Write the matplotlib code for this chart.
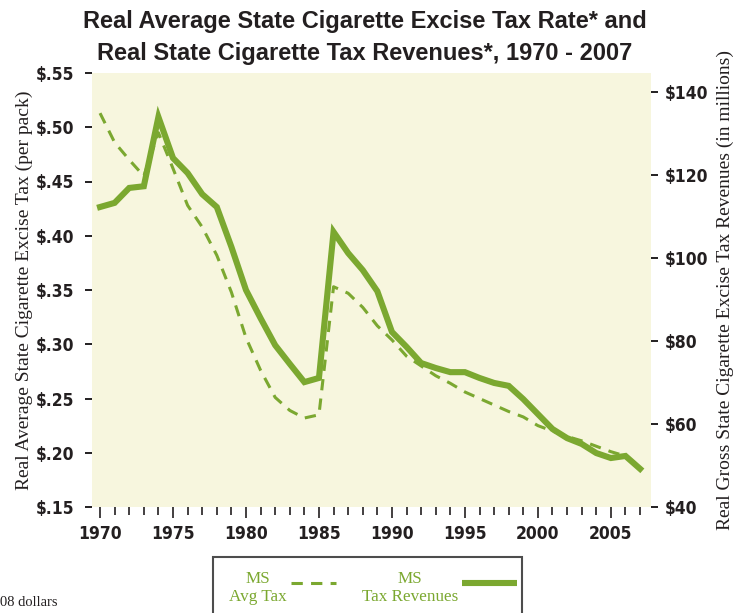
import matplotlib
matplotlib.use("Agg")
import matplotlib.pyplot as plt
from matplotlib.ticker import FixedLocator, MultipleLocator, FuncFormatter
from matplotlib.patches import Rectangle
from matplotlib.lines import Line2D

# Datos (Mississippi, dolares de 2008)
anios = list(range(1970, 2008))
impuesto_prom = [0.513, 0.486, 0.470, 0.455, 0.495, 0.462, 0.428, 0.408, 0.382, 0.348,
                 0.306, 0.276, 0.251, 0.239, 0.232, 0.235, 0.353, 0.347, 0.334, 0.317,
                 0.304, 0.289, 0.280, 0.271, 0.264, 0.256, 0.250, 0.244, 0.238, 0.233,
                 0.225, 0.220, 0.215, 0.211, 0.206, 0.201, 0.197, 0.187]
ingresos = [112.3, 113.3, 116.9, 117.3, 134.0, 124.1, 120.5, 115.4, 112.3, 102.7,
            92.3, 85.5, 79.0, 74.5, 70.1, 71.1, 106.3, 101.2, 97.1, 92.0,
            82.2, 78.6, 74.7, 73.5, 72.5, 72.5, 71.1, 69.9, 69.2, 66.0,
            62.4, 58.8, 56.6, 55.2, 53.0, 51.8, 52.3, 49.2]
ticks_izq = [0.15, 0.20, 0.25, 0.30, 0.35, 0.40, 0.45, 0.50, 0.55]
ticks_der = [40, 60, 80, 100, 120, 140]
ticks_x = [1970, 1975, 1980, 1985, 1990, 1995, 2000, 2005]
etiquetas_leyenda = ['MS\nAvg Tax', 'MS\nTax Revenues']

verde = '#7ba830'
fondo = '#f7f6de'
gris = '#231f20'
fuente_num = ['DejaVu Sans']
fuente_serif = ['Liberation Serif', 'DejaVu Serif']

W, H = 740, 613
fig = plt.figure(figsize=(W / 100, H / 100), dpi=100)
ax = fig.add_axes([92 / W, 1 - 507 / H, 559 / W, 434 / H])
ax2 = ax.twinx()

# el eje izquierdo (linea punteada) va encima del derecho
ax.set_zorder(2)
ax2.set_zorder(1)
ax.patch.set_visible(False)
ax2.patch.set_visible(True)
ax2.patch.set_facecolor(fondo)

ax2.plot(anios, ingresos, color=verde, lw=4.4, solid_joinstyle='miter')
ax.plot(anios, impuesto_prom, color=verde, lw=2.2, dashes=(3.7, 2.7))

ax.set_xlim(1969.45, 2007.75)
ax.set_ylim(0.15, 0.55)
ax2.set_ylim(40, 144.6)

for a in (ax, ax2):
    for s in a.spines.values():
        s.set_visible(False)

ax.yaxis.set_major_locator(FixedLocator(ticks_izq))
ax.yaxis.set_major_formatter(FuncFormatter(lambda v, p: '$' + ('%.2f' % v)[1:]))
ax2.yaxis.set_major_locator(FixedLocator(ticks_der))
ax2.yaxis.set_major_formatter(FuncFormatter(lambda v, p: '$%d' % v))
ax.xaxis.set_major_locator(FixedLocator(ticks_x))
ax.xaxis.set_minor_locator(MultipleLocator(1))

ax.tick_params(axis='y', length=5, width=1.4, color=gris, pad=8)
ax2.tick_params(axis='y', length=5, width=1.4, color=gris, pad=5)
ax.tick_params(axis='x', which='major', length=8, width=1.2, color=gris, pad=5)
ax.tick_params(axis='x', which='minor', length=6, width=1.2, color=gris)

for t in ax.get_xticklabels() + ax.get_yticklabels() + ax2.get_yticklabels():
    t.set_fontfamily(fuente_num)
    t.set_fontstretch('condensed')
    t.set_fontweight('bold')
    t.set_fontsize(12.5)
    t.set_color(gris)

ax.set_ylabel('Real Average State Cigarette Excise Tax (per pack)',
              fontfamily=fuente_serif, fontsize=14, color=gris, labelpad=2)
ax2.set_ylabel('Real Gross State Cigarette Excise Tax Revenues (in millions)',
               fontfamily=fuente_serif, fontsize=14, color=gris, labelpad=6)

fig.suptitle('Real Average State Cigarette Excise Tax Rate* and\n'
             'Real State Cigarette Tax Revenues*, 1970 - 2007',
             x=0.493, y=0.984, va='top', fontsize=17, fontweight='bold',
             fontfamily=['Liberation Sans', 'DejaVu Sans'], color=gris,
             linespacing=1.5)

# leyenda dibujada a mano, en pixeles de la figura
def fx(px):
    return px / W

def fy(py):
    return 1 - py / H

fig.add_artist(Rectangle((fx(213), fy(622)), fx(522) - fx(213), fy(557) - fy(622),
                         transform=fig.transFigure, facecolor='white',
                         edgecolor='#4d4d4d', lw=1.5))
fig.text(fx(258), fy(588), etiquetas_leyenda[0], ha='center', va='center',
         fontfamily=fuente_serif, fontsize=12.3, color=verde, linespacing=1.15)
fig.text(fx(410), fy(588), etiquetas_leyenda[1], ha='center', va='center',
         fontfamily=fuente_serif, fontsize=12.3, color=verde, linespacing=1.15)
fig.add_artist(Line2D([fx(291), fx(336)], [fy(583), fy(583)], transform=fig.transFigure,
                      color=verde, lw=2.2, dashes=(3.7, 2.7)))
fig.add_artist(Line2D([fx(462), fx(517)], [fy(583), fy(583)], transform=fig.transFigure,
                      color=verde, lw=4.4, solid_capstyle='butt'))

fig.text(0.0, fy(603), '08 dollars', fontfamily=fuente_serif,
         fontsize=10.5, color=gris, va='center')

fig.savefig('out.png', dpi=100)
